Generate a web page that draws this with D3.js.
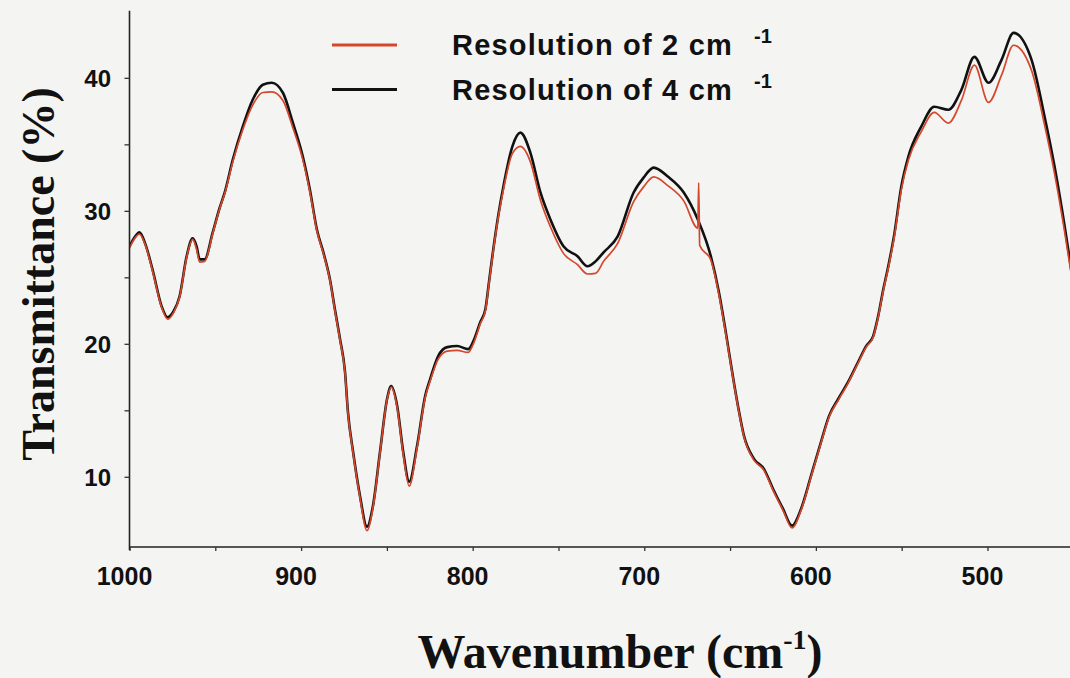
<!DOCTYPE html>
<html>
<head>
<meta charset="utf-8">
<script src="https://cdn.jsdelivr.net/npm/d3@7"></script>
<style>
  html, body { margin: 0; padding: 0; background: #f4f4f3; }
  svg { display: block; }
</style>
</head>
<body>
<svg id="chart" width="1070" height="678"></svg>
<script>
// FTIR transmittance spectra recorded at two resolutions
const wavenumbers = [
  1000, 997.1, 994.2, 990.7, 986.6, 981.3, 977.8, 974.3, 970.8, 966.7,
  963.2, 960.9, 959.1, 956.2, 951.5, 947.4, 944.5, 939.8, 934.0, 928.2,
  922.3, 917.1, 910.6, 904.8, 899.0, 894.9, 890.8, 886.7, 883.2, 880.3,
  877.3, 874.4, 872.7, 869.7, 865.7, 861.6, 858.1, 854.0, 849.9, 847.5,
  844.0, 840.5, 837.0, 832.4, 827.7, 824.8, 820.1, 814.8, 809.0, 802.6,
  799.6, 795.6, 792.6, 790.3, 788.0, 785.0, 782.1, 776.9, 772.2, 766.4,
  760.5, 754.7, 747.1, 738.9, 733.1, 728.4, 723.7, 715.5, 706.2, 700.4,
  694.5, 686.3, 677.0, 668.8, 661.2, 656.5, 652.5, 648.4, 645.4, 641.9,
  636.1, 630.3, 625.0, 619.2, 613.9, 608.6, 602.8, 597.0, 592.3, 587.0,
  581.2, 575.4, 570.7, 566.6, 563.7, 560.7, 557.8, 554.3, 550.2, 546.1,
  538.6, 531.0, 522.8, 515.2, 507.6, 499.4, 491.8, 484.8, 474.3, 466.7,
  460.9, 455.0, 450.9
];

// Resolution of 4 cm-1 (black trace)
const res4 = [
  27.33, 28.0, 28.38, 27.48, 25.6, 22.83, 22.0, 22.45, 23.58, 26.58,
  27.93, 27.33, 26.35, 26.35, 28.38, 30.25, 31.38, 33.85, 36.33, 38.35,
  39.48, 39.63, 38.88, 36.63, 34.08, 31.6, 28.6, 26.73, 24.85, 22.6,
  20.35, 17.88, 14.88, 11.88, 8.58, 6.25, 7.83, 11.88, 15.85, 16.83,
  15.33, 11.88, 9.63, 12.33, 16.08, 17.35, 19.08, 19.75, 19.83, 19.6,
  20.2, 21.63, 22.6, 24.85, 27.1, 29.73, 31.83, 34.83, 35.88, 34.38,
  31.38, 29.35, 27.33, 26.58, 25.83, 26.2, 26.88, 28.08, 31.38, 32.5,
  33.25, 32.58, 31.38, 29.35, 26.58, 23.88, 20.88, 17.58, 15.33, 13.08,
  11.35, 10.6, 9.1, 7.6, 6.33, 7.6, 10.08, 12.63, 14.58, 15.85,
  17.13, 18.63, 19.83, 20.58, 22.08, 24.1, 25.83, 28.23, 31.83, 34.08,
  36.33, 37.83, 37.6, 39.1, 41.58, 39.63, 41.35, 43.38, 41.35, 37.08,
  33.33, 28.83, 25.38
];

// Resolution of 2 cm-1 (red trace)
const res2 = [
  27.2, 27.9, 28.25, 27.4, 25.5, 22.75, 21.85, 22.35, 23.5, 26.5,
  27.85, 27.1, 26.15, 26.2, 28.3, 30.2, 31.3, 33.7, 36.1, 37.95,
  38.9, 38.95, 38.3, 36.25, 33.85, 31.45, 28.5, 26.65, 24.8, 22.5,
  20.25, 17.8, 14.8, 11.8, 8.45, 5.95, 7.7, 11.8, 15.8, 16.75,
  15.2, 11.7, 9.3, 12.2, 15.95, 17.2, 18.85, 19.45, 19.5, 19.35,
  20.0, 21.5, 22.5, 24.75, 27.0, 29.6, 31.6, 34.3, 34.85, 33.7,
  30.8, 28.8, 26.8, 25.95, 25.25, 25.3, 26.2, 27.55, 30.7, 31.8,
  32.55, 31.9, 30.75, 28.7, 26.3, 23.7, 20.75, 17.5, 15.25, 13.0,
  11.25, 10.5, 9.0, 7.5, 6.15, 7.5, 10.0, 12.55, 14.5, 15.75,
  17.05, 18.55, 19.75, 20.5, 22.0, 24.0, 25.7, 28.05, 31.6, 33.8,
  35.95, 37.4, 36.6, 38.3, 40.95, 38.15, 40.2, 42.45, 40.55, 36.45,
  32.8, 28.4, 25.0
];

// Short glitch in the 2 cm-1 trace
const res2GlitchWavenumbers = [668.3, 667.7];
const res2GlitchValues = [32.1, 27.4];

const xTicks = [1000, 950, 900, 850, 800, 750, 700, 650, 600, 550, 500];
const xLabels = [1000, 900, 800, 700, 600, 500];
const yTicks = [10, 15, 20, 25, 30, 35, 40];
const yLabels = [10, 20, 30, 40];

const legendNames = ["Resolution of 2 cm", "Resolution of 4 cm"];
const legendColors = ["#d4472b", "#111111"];

const svg = d3.select("#chart");
const plot = { left: 129.5, right: 1070, top: 10.7, bottom: 547 };

const x = d3.scaleLinear().domain([1000, 451.9]).range([plot.left, plot.right]);
const y = d3.scaleLinear().domain([4.72, 45.05]).range([plot.bottom, plot.top]);

svg.append("defs").append("clipPath").attr("id", "plotClip")
  .append("rect")
  .attr("x", plot.left).attr("y", 0)
  .attr("width", plot.right - plot.left).attr("height", plot.bottom);

const line = d3.line().x(d => x(d[0])).y(d => y(d[1])).curve(d3.curveMonotoneX);

const black = wavenumbers.map((w, i) => [w, res4[i]]);
const red = wavenumbers.map((w, i) => [w, res2[i]])
  .concat(res2GlitchWavenumbers.map((w, i) => [w, res2GlitchValues[i]]))
  .sort((a, b) => b[0] - a[0]);

const g = svg.append("g").attr("clip-path", "url(#plotClip)");
g.append("path").datum(black)
  .attr("d", line).attr("fill", "none")
  .attr("stroke", legendColors[1]).attr("stroke-width", 2.6)
  .attr("stroke-linejoin", "round");
g.append("path").datum(red)
  .attr("d", line).attr("fill", "none")
  .attr("stroke", legendColors[0]).attr("stroke-width", 1.7)
  .attr("stroke-linejoin", "round");

// Axes
const xAxis = d3.axisBottom(x).tickValues(xTicks).tickSize(4).tickFormat("");
const xg = svg.append("g").attr("transform", `translate(0,${plot.bottom})`).call(xAxis);
xg.select(".domain").attr("stroke", "#222").attr("stroke-width", 1.6)
  .attr("d", `M${plot.left},0H${plot.right}`);
xg.selectAll(".tick line").attr("stroke", "#333").attr("stroke-width", 1.3);

svg.append("g").selectAll("text").data(xLabels).join("text")
  .attr("x", d => x(d) - 5)
  .attr("y", 585)
  .attr("text-anchor", "middle")
  .attr("font-family", "Arial, 'Liberation Sans', sans-serif")
  .attr("font-weight", "bold")
  .attr("font-size", 25)
  .attr("fill", "#111")
  .text(d => d);

const yAxis = d3.axisLeft(y).tickValues(yTicks).tickSize(5).tickFormat("");
const yg = svg.append("g").attr("transform", `translate(${plot.left},0)`).call(yAxis);
yg.select(".domain").attr("stroke", "#222").attr("stroke-width", 1.6)
  .attr("d", `M0,${plot.top}V${plot.bottom + 3}`);
yg.selectAll(".tick line").attr("stroke", "#333").attr("stroke-width", 1.3);

svg.append("g").selectAll("text").data(yLabels).join("text")
  .attr("x", 111)
  .attr("y", d => y(d) + 9)
  .attr("text-anchor", "end")
  .attr("font-family", "Arial, 'Liberation Sans', sans-serif")
  .attr("font-weight", "bold")
  .attr("font-size", 24)
  .attr("fill", "#111")
  .text(d => d);

// Axis titles
const xt = svg.append("text")
  .attr("x", 620).attr("y", 668)
  .attr("text-anchor", "middle")
  .attr("font-family", "'Liberation Serif', 'Times New Roman', serif")
  .attr("font-weight", "bold")
  .attr("font-size", 48)
  .attr("fill", "#111");
xt.append("tspan").text("Wavenumber (cm");
xt.append("tspan").attr("font-size", 28).attr("dy", -19).text("-1");
xt.append("tspan").attr("dy", 19).text(")");

svg.append("text")
  .attr("transform", "translate(54,274) rotate(-90)")
  .attr("text-anchor", "middle")
  .attr("font-family", "'Liberation Serif', 'Times New Roman', serif")
  .attr("font-weight", "bold")
  .attr("font-size", 46)
  .attr("fill", "#111")
  .text("Transmittance (%)");

// Legend
const legend = svg.append("g");
legendNames.forEach((name, i) => {
  const ly = 45 + i * 44.5;
  legend.append("line")
    .attr("x1", 332).attr("x2", 397)
    .attr("y1", ly).attr("y2", ly)
    .attr("stroke", legendColors[i]).attr("stroke-width", 3.2);
  legend.append("text")
    .attr("x", 452).attr("y", ly + 10)
    .attr("font-family", "Arial, 'Liberation Sans', sans-serif")
    .attr("font-weight", "bold")
    .attr("font-size", 29)
    .attr("letter-spacing", 1.2)
    .attr("fill", "#111")
    .text(name);
  legend.append("text")
    .attr("x", 754).attr("y", ly - 2)
    .attr("font-family", "Arial, 'Liberation Sans', sans-serif")
    .attr("font-weight", "bold")
    .attr("font-size", 20)
    .attr("fill", "#111")
    .text("-1");
});
</script>
</body>
</html>
